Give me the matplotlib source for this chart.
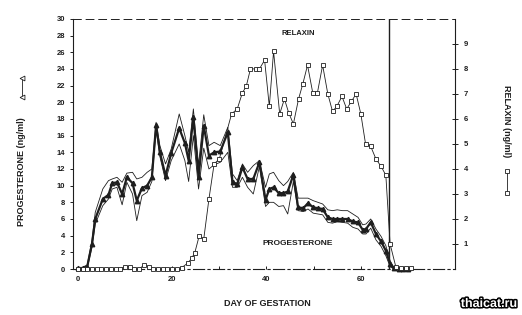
import matplotlib
matplotlib.use("Agg")
import matplotlib.pyplot as plt
import matplotlib.patheffects as pe
from matplotlib.lines import Line2D

plt.rcParams['font.family'] = ['Liberation Sans', 'DejaVu Sans']

# progesterone, mean and the two thin bounding curves (ng/ml)
prog_day = [0, 1, 2, 3, 3.7, 5.3, 6.5, 7.3, 8.3, 9.4, 10.4, 11.6, 12.5, 13.6, 14.7,
            15.7, 16.6, 17.4, 18.6, 19.8, 21.5, 22.7, 23.5, 24.5, 25.6, 26.7, 27.8,
            28.9, 30.2, 31.8, 32.8, 33.8, 34.9, 36.0, 37.2, 38.5, 39.8, 40.6, 41.5,
            42.6, 43.6, 44.5, 45.7, 46.7, 47.8, 48.8, 49.9, 50.9, 51.9, 53.0, 54.0,
            55.0, 56.1, 57.2, 58.3, 59.4, 60.4, 61.1, 62.1, 63.2, 64.3, 65.3, 66.2,
            67.0, 68.0, 69.0, 70.0]
prog_mean = [0.1, 0.1, 0.3, 3.0, 6.0, 8.4, 8.9, 10.3, 10.4, 9.0, 11.0, 10.3, 8.2, 9.7,
             10.0, 11.0, 17.3, 14.0, 11.2, 13.9, 16.9, 15.1, 13.0, 18.2, 11.0, 17.2,
             13.6, 14.0, 14.1, 16.4, 10.4, 10.2, 12.2, 10.8, 10.8, 12.8, 8.3, 9.6, 9.8,
             9.1, 9.1, 9.3, 11.3, 7.4, 7.3, 7.9, 7.4, 7.3, 7.2, 6.2, 6.0, 6.0, 6.0, 6.0,
             5.7, 5.6, 4.7, 4.8, 5.6, 4.2, 3.3, 2.2, 0.6, 0.1, 0.05, 0.05, 0.05]
prog_upper = [0.2, 0.2, 0.5, 3.4, 6.8, 9.6, 10.6, 10.8, 11.0, 10.4, 11.5, 11.6, 10.8,
              11.0, 11.6, 12.0, 17.6, 14.8, 12.6, 14.4, 18.6, 16.0, 14.0, 19.2, 12.5,
              18.5, 14.8, 15.2, 14.8, 17.0, 11.4, 10.6, 12.6, 11.6, 12.4, 13.0, 9.8,
              11.4, 11.6, 10.6, 10.0, 10.5, 11.6, 8.5, 8.5, 8.5, 8.2, 8.0, 7.8, 7.1, 7.0,
              7.1, 7.0, 7.0, 6.6, 6.2, 5.3, 5.4, 6.0, 4.8, 3.9, 2.8, 1.0, 0.2, 0.1, 0.1, 0.1]
prog_lower = [0.0, 0.0, 0.1, 2.6, 5.4, 7.6, 8.4, 9.6, 9.8, 7.7, 10.4, 9.0, 5.8, 8.8,
              9.2, 10.5, 16.8, 13.5, 10.6, 13.0, 15.0, 13.0, 10.5, 16.0, 9.6, 14.5,
              12.0, 12.5, 12.8, 14.0, 9.8, 9.8, 11.0, 9.8, 9.0, 12.3, 7.5, 8.0, 8.0,
              7.5, 7.6, 6.6, 10.5, 7.0, 6.9, 7.2, 6.7, 6.6, 6.5, 5.6, 5.5, 5.7, 5.6,
              5.5, 5.0, 4.8, 4.2, 4.2, 4.9, 3.5, 2.7, 1.6, 0.3, 0.0, 0.0, 0.0, 0.0]

# relaxin (ng/ml)
relaxin_day = [0, 1, 2, 3, 4, 5, 6, 7, 8, 9, 10, 11, 12, 13, 14, 15, 16, 17, 18, 19,
               20, 21, 22, 23.4, 24.2, 24.8, 25.7, 26.7, 27.8, 28.9, 30.0, 32.6, 33.8,
               34.9, 35.7, 36.6, 37.7, 38.5, 39.6, 40.6, 41.5, 42.8, 43.8, 44.7, 45.7,
               46.8, 47.7, 48.7, 49.8, 50.8, 51.9, 53.0, 54.0, 54.9, 56.0, 57.0, 58.0,
               59.0, 60.0, 61.0, 62.1, 63.2, 64.3, 65.3, 66.2, 67.4, 68.5, 69.6, 70.6]
relaxin_val = [0, 0, 0, 0, 0, 0, 0, 0, 0, 0, 0.1, 0.1, 0, 0, 0.15, 0.1, 0, 0, 0, 0,
               0, 0, 0.05, 0.25, 0.45, 0.65, 1.3, 1.2, 2.8, 4.2, 4.4, 6.2, 6.4, 7.05,
               7.3, 8.0, 8.0, 8.0, 8.35, 6.5, 8.7, 6.2, 6.8, 6.25, 5.8, 6.8, 7.4, 8.15,
               7.05, 7.05, 8.15, 7.0, 6.3, 6.5, 6.9, 6.4, 6.7, 7.0, 6.2, 5.0, 4.9, 4.4,
               4.1, 3.75, 1.0, 0.1, 0.05, 0.05, 0.05]

prog_ticks = list(range(0, 31, 2))
relaxin_ticks = list(range(1, 10))
day_ticks = [0, 20, 40, 60]
parturition_day = 66

ink = '#1e1e1e'

fig = plt.figure(figsize=(5.22, 3.15), dpi=100)
ax = fig.add_axes([0.140, 0.146, 0.732, 0.794])

# thin curves either side of the mean
ax.plot(prog_day, prog_upper, color=ink, lw=0.6)
ax.plot(prog_day, prog_lower, color=ink, lw=0.6)
ax.plot(prog_day, prog_mean, color=ink, lw=1.6, marker='^', ms=3.2,
        mfc=ink, mec=ink, clip_on=False, zorder=4)

ax.set_xlim(-1, 80)
ax.set_ylim(0, 30)
ax.set_yticks(prog_ticks)
ax.set_xticks(day_ticks)
ax.set_xticks([10, 30, 50, 70], minor=True)
ax.tick_params(axis='y', direction='out', length=2.5, width=0.7, labelsize=5.5,
               pad=3, colors=ink)
ax.tick_params(axis='x', which='both', direction='in', length=2.5, width=0.7,
               labelsize=5.5, pad=5, colors=ink)
for lab in ax.get_xticklabels() + ax.get_yticklabels():
    lab.set_fontweight('bold')

ax.spines['top'].set_linestyle((0, (8, 5)))
ax.spines['top'].set_linewidth(0.7)
ax.spines['bottom'].set_linestyle((0, (10, 3, 2, 3)))
for s in ['left', 'right', 'bottom', 'top']:
    ax.spines[s].set_color(ink)
ax.spines['left'].set_linewidth(0.8)
ax.spines['right'].set_linewidth(0.8)
ax.spines['bottom'].set_linewidth(0.8)

ax.axvline(parturition_day, color=ink, lw=1.0)

ax2 = ax.twinx()
ax2.plot(relaxin_day, relaxin_val, color=ink, lw=0.6, marker='s', ms=3.0,
         mfc='white', mec=ink, mew=0.6, clip_on=False, zorder=5)
ax2.set_ylim(0, 10)
ax2.set_yticks(relaxin_ticks)
ax2.tick_params(axis='y', direction='inout', length=4, width=0.7, labelsize=5.5,
                pad=4, colors=ink)
for lab in ax2.get_yticklabels():
    lab.set_fontweight('bold')
for s in ax2.spines.values():
    s.set_visible(False)

ax.text(46.8, 28.2, 'RELAXIN', fontsize=5.5, fontweight='bold', color=ink,
        ha='center', va='center')
ax.text(46.6, 3.1, 'PROGESTERONE', fontsize=6, fontweight='bold', color=ink,
        ha='center', va='center')

fig.text(267 / 522, 1 - 304 / 315, 'DAY OF GESTATION', fontsize=6.5,
         fontweight='bold', color=ink, ha='center', va='center')
fig.text(22 / 522, 1 - 172 / 315, 'PROGESTERONE (ng/ml)', fontsize=6.5,
         fontweight='bold', color=ink, rotation=90, ha='center', va='center')
fig.text(507 / 522, 1 - 121 / 315, 'RELAXIN (ng/ml)', fontsize=6.5,
         fontweight='bold', color=ink, rotation=-90, ha='center', va='center')

# little key symbols next to the axis titles
fig.add_artist(Line2D([22 / 522, 22 / 522], [1 - 78 / 315, 1 - 97 / 315],
                      color=ink, lw=0.6, marker='<', ms=3.5, mfc='white', mec=ink,
                      mew=0.6, transform=fig.transFigure))
fig.add_artist(Line2D([507 / 522, 507 / 522], [1 - 171 / 315, 1 - 193 / 315],
                      color=ink, lw=0.6, marker='s', ms=3.5, mfc='white', mec=ink,
                      mew=0.6, transform=fig.transFigure))

fig.text(489 / 522, 1 - 304 / 315, 'thaicat.ru', fontsize=9, fontweight='bold',
         color='white', ha='center', va='center',
         path_effects=[pe.withStroke(linewidth=2.2, foreground='black')])

fig.savefig('out.png', dpi=100, facecolor='white')
